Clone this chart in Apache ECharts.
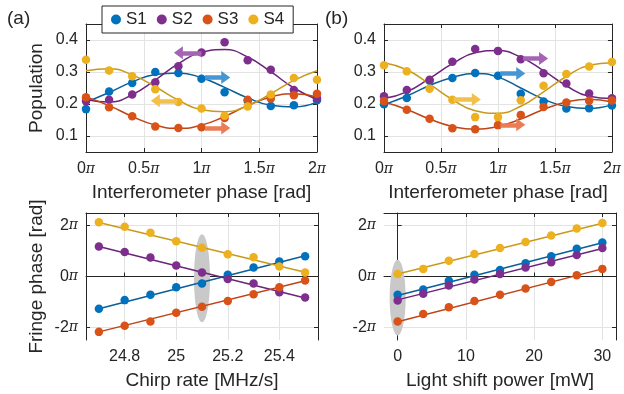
<!DOCTYPE html>
<html>
<head>
<meta charset="utf-8">
<script src="https://cdn.jsdelivr.net/npm/echarts@6/dist/echarts.min.js"></script>
<style>
  html, body { margin: 0; padding: 0; background: #fff; }
  #chart { width: 624px; height: 394px; }
</style>
</head>
<body>
<div id="chart"></div>
<script>
// ---- data (phase in units of pi, fringe phase in units of pi) ----
const phase = [0, 0.2, 0.4, 0.6, 0.8, 1.0, 1.2, 1.4, 1.6, 1.8, 2.0];

// (a) measured populations + fitted curves
const a_s1 = [0.184, 0.239, 0.266, 0.300, 0.297, 0.279, 0.237, 0.210, 0.194, 0.196, 0.212];
const a_s2 = [0.209, 0.213, 0.230, 0.268, 0.318, 0.361, 0.393, 0.337, 0.307, 0.244, 0.218];
const a_s3 = [0.221, 0.190, 0.162, 0.130, 0.125, 0.127, 0.156, 0.213, 0.217, 0.227, 0.232];
const a_s4 = [0.338, 0.305, 0.287, 0.246, 0.206, 0.186, 0.163, 0.192, 0.230, 0.281, 0.276];
const a_fit1 = [0.206, 0.236, 0.269, 0.292, 0.297, 0.282, 0.252, 0.219, 0.196, 0.191, 0.206];
const a_fit2 = [0.214, 0.206, 0.229, 0.275, 0.326, 0.362, 0.370, 0.347, 0.301, 0.250, 0.214];
const a_fit3 = [0.222, 0.195, 0.161, 0.134, 0.124, 0.134, 0.161, 0.195, 0.222, 0.232, 0.222];
const a_fit4 = [0.304, 0.310, 0.291, 0.254, 0.212, 0.182, 0.176, 0.195, 0.232, 0.274, 0.304];

// (b) measured populations + fitted curves
const b_s1 = [0.199, 0.219, 0.273, 0.281, 0.297, 0.288, 0.232, 0.208, 0.186, 0.187, 0.195];
const b_s2 = [0.224, 0.244, 0.276, 0.332, 0.372, 0.366, 0.340, 0.296, 0.264, 0.233, 0.218];
const b_s3 = [0.209, 0.182, 0.154, 0.124, 0.121, 0.134, 0.166, 0.191, 0.205, 0.210, 0.211];
const b_s4 = [0.321, 0.302, 0.248, 0.213, 0.159, 0.159, 0.212, 0.257, 0.294, 0.317, 0.331];
const b_fit1 = [0.198, 0.225, 0.258, 0.283, 0.295, 0.284, 0.250, 0.215, 0.192, 0.186, 0.198];
const b_fit2 = [0.217, 0.238, 0.280, 0.326, 0.360, 0.367, 0.346, 0.304, 0.257, 0.224, 0.217];
const b_fit3 = [0.206, 0.183, 0.153, 0.130, 0.121, 0.130, 0.153, 0.183, 0.206, 0.215, 0.206];
const b_fit4 = [0.329, 0.307, 0.262, 0.214, 0.179, 0.171, 0.193, 0.238, 0.286, 0.321, 0.329];

// arrows: [series, from x, to x, y]
const a_arrows = [['S2', 1.00, 0.80, 0.360], ['S1', 1.03, 1.21, 0.283], ['S4', 0.79, 0.60, 0.210], ['S3', 1.03, 1.21, 0.125]];
const b_arrows = [['S2', 1.22, 1.40, 0.342], ['S1', 1.02, 1.20, 0.295], ['S4', 0.61, 0.81, 0.214], ['S3', 1.02, 1.20, 0.135]];

// (c) fringe phase vs chirp rate
const chirp = [24.7, 24.8, 24.9, 25.0, 25.1, 25.2, 25.3, 25.4, 25.5];
const c_s1 = [-1.27, -0.93, -0.72, -0.42, -0.28, 0.07, 0.35, 0.59, 0.80];
const c_s2 = [1.18, 0.96, 0.75, 0.43, 0.16, -0.10, -0.28, -0.62, -0.83];
const c_s3 = [-2.18, -1.94, -1.77, -1.43, -1.19, -0.96, -0.70, -0.42, -0.16];
const c_s4 = [2.14, 1.96, 1.72, 1.39, 1.13, 0.88, 0.76, 0.39, 0.16];
const chirpEnds = [24.7, 25.5];
const c_fit1 = [-1.27, 0.82];
const c_fit2 = [1.18, -0.85];
const c_fit3 = [-2.18, -0.17];
const c_fit4 = [2.13, 0.17];
const c_band = [25.1, -0.07, 1.73];   // x, centre, half height

// (d) fringe phase vs light shift power
const power = [0, 3.75, 7.5, 11.25, 15, 18.75, 22.5, 26.25, 30];
const d_s1 = [-0.72, -0.51, -0.17, 0.07, 0.26, 0.52, 0.80, 1.09, 1.34];
const d_s2 = [-0.94, -0.68, -0.35, -0.12, 0.10, 0.35, 0.56, 0.85, 1.12];
const d_s3 = [-1.77, -1.48, -1.21, -0.96, -0.72, -0.47, -0.22, 0.05, 0.30];
const d_s4 = [0.10, 0.30, 0.62, 0.89, 1.12, 1.36, 1.61, 1.89, 2.11];
const powerEnds = [0, 30];
const d_fit1 = [-0.75, 1.33];
const d_fit2 = [-0.92, 1.10];
const d_fit3 = [-1.78, 0.30];
const d_fit4 = [0.10, 2.10];
const d_band = [0, -0.83, 1.49];

// ticks
const phaseTicks = [0, 0.5, 1, 1.5, 2];
const popTicks = [0.1, 0.2, 0.3, 0.4];
const fringeTicks = [-2, 0, 2];
const chirpTicks = [24.8, 25, 25.2, 25.4];
const powerTicks = [0, 10, 20, 30];

// ---- styles ----
const FONT = 'Liberation Sans, Arial, sans-serif';
const INK = '#262626';
const dotColor = { S1: '#0072BD', S2: '#7E2F8E', S3: '#D95319', S4: '#EDB120' };
const lineColor = { S1: '#0a5f99', S2: '#6b2479', S3: '#bf4416', S4: '#c99a1a' };
const arrowColor = { S1: '#4596d2', S2: '#a464b4', S3: '#ea7d55', S4: '#f2c14c' };

const piRich = {
  n: { fontFamily: FONT, fontSize: 16, color: INK },
  p: { fontFamily: 'DejaVu Serif, serif', fontStyle: 'italic', fontSize: 14, color: INK }
};
const piFmt = v => '{n|' + (Math.round(v * 10) / 10) + '}{p|π}';

function mainX(gi, min, max, ticks, name, fmt) {
  return {
    type: 'value', gridIndex: gi, min: min, max: max,
    name: name, nameLocation: 'middle', nameGap: 31,
    nameTextStyle: { fontFamily: FONT, fontSize: 19, color: INK },
    axisLine: { show: true, lineStyle: { color: INK, width: 1 } },
    axisTick: { show: true, inside: true, length: 4, customValues: ticks, lineStyle: { color: INK } },
    axisLabel: { show: true, margin: 9, customValues: ticks, fontFamily: FONT, fontSize: 16, color: INK,
      formatter: fmt, rich: piRich },
    splitLine: { show: true, lineStyle: { color: '#e3e3e3', width: 1 } }
  };
}
function mainY(gi, min, max, ticks, name, fmt) {
  return {
    type: 'value', gridIndex: gi, min: min, max: max,
    name: name, nameLocation: 'middle', nameGap: 40,
    nameTextStyle: { fontFamily: FONT, fontSize: 19, color: INK },
    axisLine: { show: true, lineStyle: { color: INK, width: 1 } },
    axisTick: { show: true, inside: true, length: 4, customValues: ticks, lineStyle: { color: INK } },
    axisLabel: { show: true, margin: 8, customValues: ticks, fontFamily: FONT, fontSize: 16, color: INK,
      formatter: fmt, rich: piRich },
    splitLine: { show: true, lineStyle: { color: '#e3e3e3', width: 1 } }
  };
}
function mirror(gi, min, max, ticks, pos) {
  return {
    type: 'value', gridIndex: gi, min: min, max: max, position: pos,
    axisLine: { show: true, onZero: false, lineStyle: { color: INK, width: 1 } },
    axisTick: { show: true, inside: true, length: 4, customValues: ticks, lineStyle: { color: INK } },
    axisLabel: { show: false },
    splitLine: { show: false }
  };
}

const grids = [
  { left: 86, top: 24, width: 231, height: 128 },
  { left: 384, top: 24, width: 232, height: 128 },
  { left: 86, top: 213, width: 232, height: 127 },
  { left: 384, top: 213, width: 232, height: 127 }
];

const xAxes = [
  mainX(0, 0, 2, phaseTicks, 'Interferometer phase [rad]', piFmt),
  mainX(1, 0, 2, phaseTicks, 'Interferometer phase [rad]', piFmt),
  mainX(2, 24.65, 25.55, chirpTicks, 'Chirp rate [MHz/s]', v => String(Math.round(v * 10) / 10)),
  mainX(3, -2, 32, powerTicks, 'Light shift power [mW]', v => String(v)),
  mirror(0, 0, 2, phaseTicks, 'top'),
  mirror(1, 0, 2, phaseTicks, 'top'),
  mirror(2, 24.65, 25.55, chirpTicks, 'top'),
  mirror(3, -2, 32, powerTicks, 'top')
];
const yAxes = [
  mainY(0, 0.05, 0.45, popTicks, 'Population', v => (Math.round(v * 10) / 10).toFixed(1)),
  mainY(1, 0.05, 0.45, popTicks, '', v => (Math.round(v * 10) / 10).toFixed(1)),
  mainY(2, -2.5, 2.5, fringeTicks, 'Fringe phase [rad]', piFmt),
  mainY(3, -2.5, 2.5, fringeTicks, '', piFmt),
  mirror(0, 0.05, 0.45, popTicks, 'right'),
  mirror(1, 0.05, 0.45, popTicks, 'right'),
  mirror(2, -2.5, 2.5, fringeTicks, 'right'),
  mirror(3, -2.5, 2.5, fringeTicks, 'right')
];

const zip = (xs, ys) => xs.map((x, i) => [x, ys[i]]);

function dots(name, gi, xs, ys) {
  return {
    type: 'scatter', name: name, xAxisIndex: gi, yAxisIndex: gi,
    data: zip(xs, ys), symbol: 'circle', symbolSize: 8.5,
    itemStyle: { color: dotColor[name], opacity: 1 }, z: 4, silent: true
  };
}
function fit(name, gi, xs, ys, smooth, arrows) {
  const s = {
    type: 'line', name: name + ' fit', xAxisIndex: gi, yAxisIndex: gi,
    data: zip(xs, ys), smooth: smooth, symbol: 'none',
    lineStyle: { color: lineColor[name], width: 1.5 }, z: 3, silent: true
  };
  const mine = (arrows || []).filter(a => a[0] === name);
  if (mine.length) {
    s.markLine = {
      silent: true, symbol: ['none', 'triangle'], symbolSize: [13, 9],
      label: { show: false },
      lineStyle: { color: arrowColor[name], width: 4.5, type: 'solid', opacity: 1 },
      data: mine.map(a => [{ coord: [a[1], a[3]] }, { coord: [a[2], a[3]] }]),
      z: 5
    };
  }
  return s;
}
function band(gi, b) {
  return {
    type: 'custom', xAxisIndex: gi, yAxisIndex: gi, data: [b], z: 1, silent: true,
    renderItem: (params, api) => {
      const c = api.coord([api.value(0), api.value(1)]);
      const t = api.coord([api.value(0), api.value(1) + api.value(2)]);
      return { type: 'ellipse', shape: { cx: c[0], cy: c[1], rx: 8, ry: c[1] - t[1] },
        style: { fill: '#c9c9c9' } };
    }
  };
}

const names = ['S1', 'S2', 'S3', 'S4'];
const popA = { S1: [a_s1, a_fit1], S2: [a_s2, a_fit2], S3: [a_s3, a_fit3], S4: [a_s4, a_fit4] };
const popB = { S1: [b_s1, b_fit1], S2: [b_s2, b_fit2], S3: [b_s3, b_fit3], S4: [b_s4, b_fit4] };
const frC = { S1: [c_s1, c_fit1], S2: [c_s2, c_fit2], S3: [c_s3, c_fit3], S4: [c_s4, c_fit4] };
const frD = { S1: [d_s1, d_fit1], S2: [d_s2, d_fit2], S3: [d_s3, d_fit3], S4: [d_s4, d_fit4] };

const series = [band(2, c_band), band(3, d_band)];
names.forEach(n => {
  series.push(fit(n, 0, phase, popA[n][1], true, a_arrows));
  series.push(fit(n, 1, phase, popB[n][1], true, b_arrows));
  series.push(fit(n, 2, chirpEnds, frC[n][1], false));
  series.push(fit(n, 3, powerEnds, frD[n][1], false));
});
names.forEach(n => {
  series.push(dots(n, 0, phase, popA[n][0]));
  series.push(dots(n, 1, phase, popB[n][0]));
  series.push(dots(n, 2, chirp, frC[n][0]));
  series.push(dots(n, 3, power, frD[n][0]));
});

const chart = echarts.init(document.getElementById('chart'), null, { renderer: 'canvas' });
chart.setOption({
  backgroundColor: '#ffffff',
  animation: false,
  textStyle: { fontFamily: FONT },
  grid: grids,
  xAxis: xAxes,
  yAxis: yAxes,
  legend: {
    data: names, left: 102, top: 6, orient: 'horizontal',
    icon: 'circle', itemWidth: 10, itemHeight: 10, itemGap: 10,
    padding: [5, 9, 5, 9], backgroundColor: '#ffffff',
    borderColor: INK, borderWidth: 1, borderRadius: 0,
    textStyle: { fontFamily: FONT, fontSize: 17, color: INK },
    selectedMode: false, z: 10
  },
  graphic: [
    { type: 'text', left: 7, top: 9, style: { text: '(a)', font: '19px ' + FONT, fill: INK } },
    { type: 'text', left: 325, top: 9, style: { text: '(b)', font: '19px ' + FONT, fill: INK } }
  ],
  series: series
});
</script>
</body>
</html>
